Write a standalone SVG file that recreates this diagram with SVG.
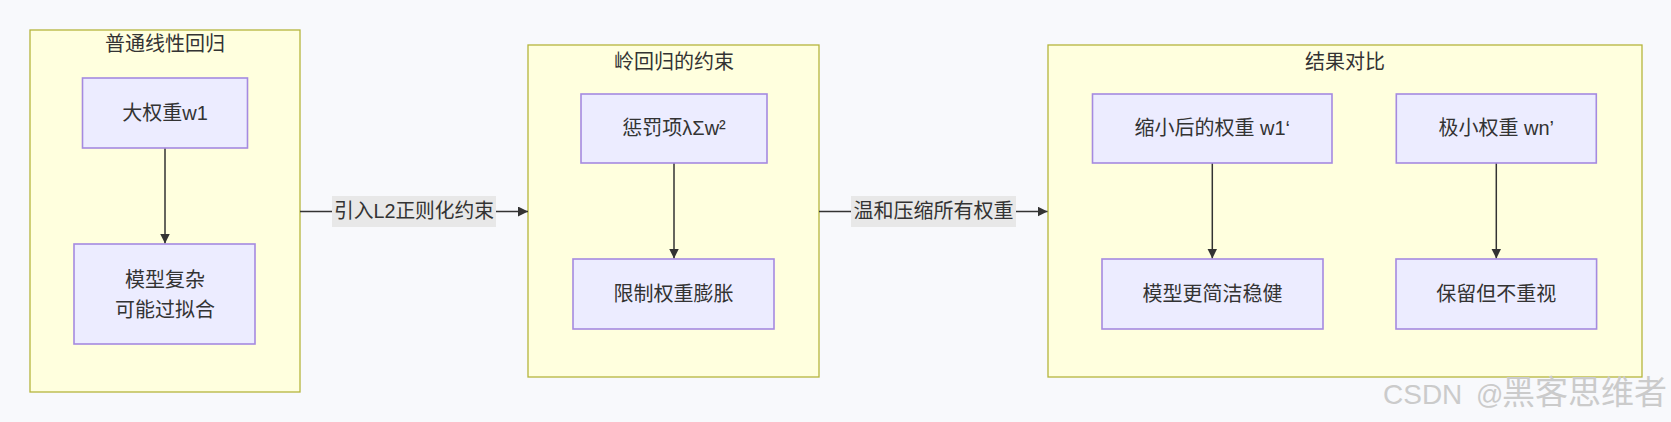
<svg xmlns="http://www.w3.org/2000/svg" width="1671" height="422" viewBox="0 0 1671 422">
<style>
.bg{fill:#f8f9fc}
.cluster rect{fill:#ffffde;stroke:#b5b53c;stroke-width:1.3}
.node rect{fill:#ececff;stroke:#a58ae0;stroke-width:1.6}
text{font-family:"Liberation Sans","Noto Sans CJK SC",sans-serif;font-size:20px;fill:#333333;text-anchor:middle}
.edge{stroke:#333333;stroke-width:1.5;fill:none}
.lbg{fill:#e8e8e8}
text.wm{fill:#cbcbcb;text-anchor:start;font-size:28px}
</style>
<defs>
<marker id="arr" markerUnits="userSpaceOnUse" markerWidth="11" markerHeight="11" refX="10" refY="5" orient="auto">
<path d="M0,0 L10,5 L0,10 z" fill="#333333"/>
</marker>
</defs>
<rect class="bg" x="0" y="0" width="1671" height="422"/>

<g id="cluster1" class="cluster">
<rect x="30" y="30" width="270" height="362"/>
<text x="165" y="51">普通线性回归</text>
</g>
<g id="cluster2" class="cluster">
<rect x="528" y="45" width="291" height="332"/>
<text x="674" y="69">岭回归的约束</text>
</g>
<g id="cluster3" class="cluster">
<rect x="1048" y="45" width="594" height="332"/>
<text x="1345" y="69">结果对比</text>
</g>

<g id="connectors">
<line class="edge" x1="165" y1="148" x2="165" y2="243.5" marker-end="url(#arr)"/>
<line class="edge" x1="674" y1="163" x2="674" y2="258.5" marker-end="url(#arr)"/>
<line class="edge" x1="1212.3" y1="163" x2="1212.3" y2="258.5" marker-end="url(#arr)"/>
<line class="edge" x1="1496.3" y1="163" x2="1496.3" y2="258.5" marker-end="url(#arr)"/>
<line class="edge" x1="300" y1="211.5" x2="528" y2="211.5" marker-end="url(#arr)"/>
<line class="edge" x1="819" y1="211.5" x2="1047.5" y2="211.5" marker-end="url(#arr)"/>
<rect class="lbg" x="332" y="196" width="164" height="31"/>
<text x="414" y="218" textLength="160" lengthAdjust="spacingAndGlyphs">引入L2正则化约束</text>
<rect class="lbg" x="851" y="196" width="165" height="31"/>
<text x="933.5" y="218">温和压缩所有权重</text>
</g>

<g id="n_w1" class="node">
<rect x="82.5" y="78" width="165" height="70"/>
<text x="165" y="120">大权重w1</text>
</g>
<g id="n_complex" class="node">
<rect x="74" y="244" width="181" height="100"/>
<text x="165" y="287">模型复杂</text>
<text x="165" y="317">可能过拟合</text>
</g>
<g id="n_penalty" class="node">
<rect x="581" y="94" width="186" height="69"/>
<text x="674" y="135">惩罚项λΣw²</text>
</g>
<g id="n_limit" class="node">
<rect x="573" y="259" width="201" height="70"/>
<text x="673.5" y="301">限制权重膨胀</text>
</g>
<g id="n_w1p" class="node">
<rect x="1092.5" y="94" width="239.5" height="69"/>
<text x="1212.3" y="135">缩小后的权重 w1‘</text>
</g>
<g id="n_wn" class="node">
<rect x="1396.3" y="94" width="200" height="69"/>
<text x="1496.3" y="135">极小权重 wn’</text>
</g>
<g id="n_simple" class="node">
<rect x="1102" y="259" width="221" height="70"/>
<text x="1212.5" y="301">模型更简洁稳健</text>
</g>
<g id="n_keep" class="node">
<rect x="1396" y="259" width="200.6" height="70"/>
<text x="1496.3" y="301">保留但不重视</text>
</g>

<text class="wm" y="403.5"><tspan x="1383">CSDN</tspan><tspan x="1476" font-size="27">@</tspan><tspan x="1502" font-size="33" textLength="165" lengthAdjust="spacingAndGlyphs">黑客思维者</tspan></text>
</svg>
